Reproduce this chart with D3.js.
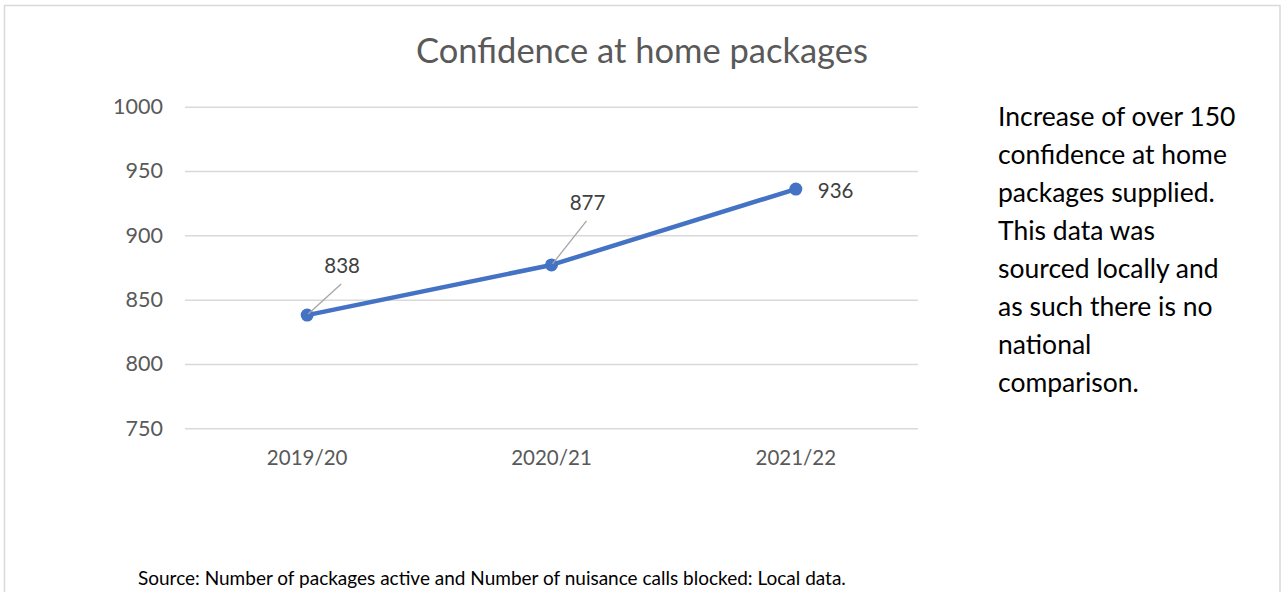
<!DOCTYPE html>
<html>
<head>
<meta charset="utf-8">
<script src="https://cdn.jsdelivr.net/npm/d3@7"></script>
<style>
  html, body { margin: 0; padding: 0; background: #fff; }
  svg { display: block; }
</style>
</head>
<body>
<svg id="chart" width="1285" height="592"></svg>
<script>
// Chart data
const title = "Confidence at home packages";
const categories = ["2019/20", "2020/21", "2021/22"];
const values = [838, 877, 936];
const yTicks = [750, 800, 850, 900, 950, 1000];
const noteLines = [
  "Increase of over 150",
  "confidence at home",
  "packages supplied.",
  "This data was",
  "sourced locally and",
  "as such there is no",
  "national",
  "comparison."
];
const sourceText = "Source: Number of packages active and Number of nuisance calls blocked: Local data.";

const svg = d3.select("#chart");
const font = "Lato, 'Open Sans', sans-serif";

// Outer frame
svg.append("rect")
  .attr("x", 4.5).attr("y", 5.5)
  .attr("width", 1275.5).attr("height", 600)
  .attr("fill", "#fff")
  .attr("stroke", "#d9d9d9").attr("stroke-width", 1.5);

// Plot area
const plot = { left: 185, right: 918, top: 106.7, bottom: 428.3 };

const x = d3.scaleBand().domain(categories).range([plot.left, plot.right]);
const y = d3.scaleLinear().domain([750, 1000]).range([plot.bottom, plot.top]);
const cx = c => x(c) + x.bandwidth() / 2;

// Title
svg.append("text")
  .attr("x", 642).attr("y", 63)
  .attr("text-anchor", "middle")
  .attr("font-family", font).attr("font-size", 34.5)
  .attr("fill", "#595959")
  .text(title);

// Gridlines and y-axis labels
const yAxis = d3.axisLeft(y).tickValues(yTicks).tickFormat(d3.format("d"))
  .tickSize(-(plot.right - plot.left)).tickPadding(22);
const gy = svg.append("g")
  .attr("transform", `translate(${plot.left},0)`)
  .call(yAxis);
gy.select(".domain").remove();
gy.selectAll(".tick line").attr("stroke", "#d9d9d9").attr("stroke-width", 1.5);
gy.selectAll(".tick text")
  .attr("font-family", font).attr("font-size", 21.5)
  .attr("fill", "#595959");

// Category labels
const xAxis = d3.axisBottom(x).tickSize(0).tickPadding(22);
const gx = svg.append("g")
  .attr("transform", `translate(0,${plot.bottom})`)
  .call(xAxis);
gx.select(".domain").remove();
gx.selectAll(".tick text")
  .attr("font-family", font).attr("font-size", 20.5)
  .attr("fill", "#595959");

// Series line and markers
const pts = categories.map((c, i) => ({ c, v: values[i] }));
svg.append("path")
  .datum(pts)
  .attr("fill", "none")
  .attr("stroke", "#4472c4").attr("stroke-width", 4.5)
  .attr("stroke-linejoin", "round").attr("stroke-linecap", "round")
  .attr("d", d3.line().x(d => cx(d.c)).y(d => y(d.v)));

svg.selectAll("circle.marker")
  .data(pts).enter().append("circle")
  .attr("class", "marker")
  .attr("cx", d => cx(d.c)).attr("cy", d => y(d.v))
  .attr("r", 6.5).attr("fill", "#4472c4");

// Data labels (offsets from each point; leader lines where the label is moved)
const labelPlacement = [
  { dx: 35, dy: -49, anchor: "middle", leader: true },
  { dx: 36, dy: -62, anchor: "middle", leader: true },
  { dx: 22, dy: 2, anchor: "start", leader: false }
];
pts.forEach((d, i) => {
  const p = labelPlacement[i];
  const px = cx(d.c), py = y(d.v);
  if (p.leader) {
    svg.append("line")
      .attr("x1", px + 1).attr("y1", py - 1)
      .attr("x2", px + p.dx - 1).attr("y2", py + p.dy + 18)
      .attr("stroke", "#a6a6a6").attr("stroke-width", 1.3);
  }
  svg.append("text")
    .attr("x", px + p.dx).attr("y", py + p.dy)
    .attr("dy", "0.35em")
    .attr("text-anchor", p.anchor)
    .attr("font-family", font).attr("font-size", 20.5)
    .attr("fill", "#404040")
    .text(d.v);
});

// Side note
svg.append("g").selectAll("text")
  .data(noteLines).enter().append("text")
  .attr("x", 998)
  .attr("y", (d, i) => 126 + i * 38)
  .attr("font-family", font).attr("font-size", 26.5)
  .attr("fill", "#000")
  .text(d => d);

// Source footnote
svg.append("text")
  .attr("x", 138).attr("y", 585)
  .attr("font-family", font).attr("font-size", 19)
  .attr("fill", "#000")
  .text(sourceText);
</script>
</body>
</html>
